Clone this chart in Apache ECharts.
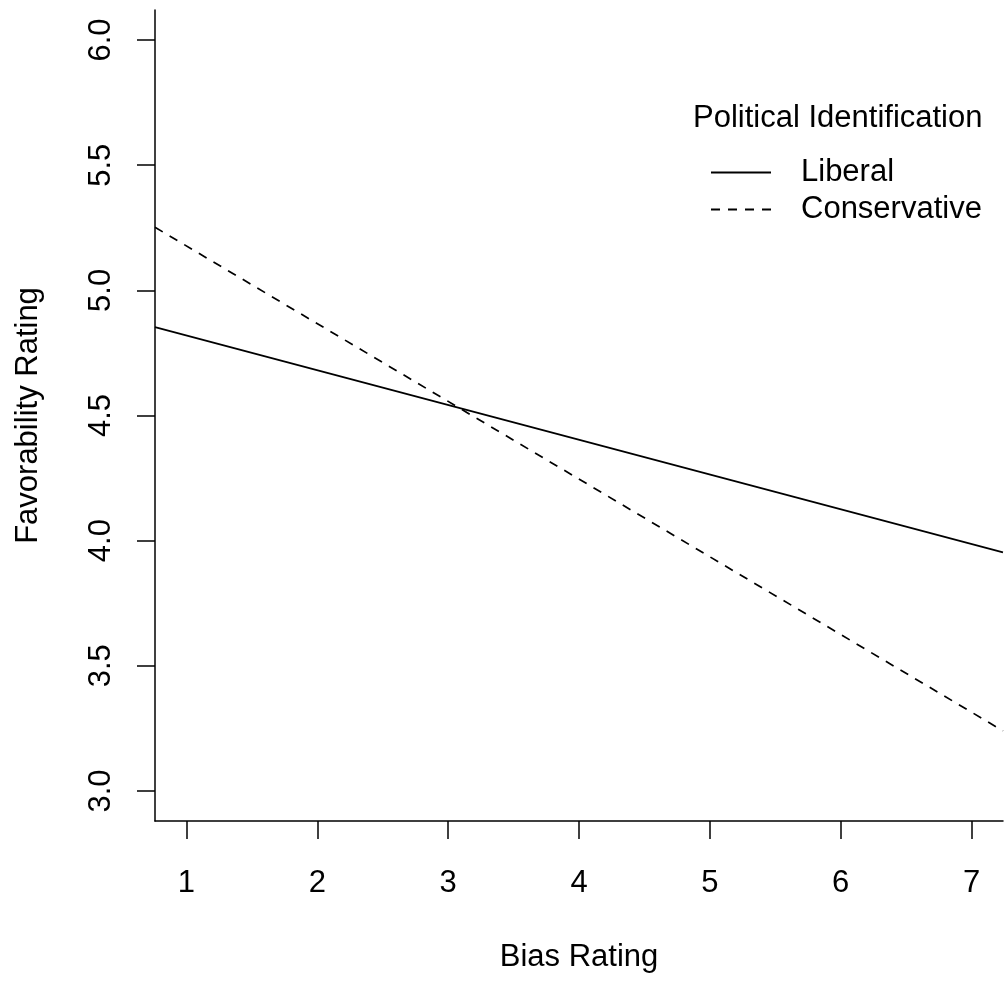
<!DOCTYPE html>
<html>
<head>
<meta charset="utf-8">
<script src="https://cdn.jsdelivr.net/npm/echarts@6/dist/echarts.min.js"></script>
<style>
html,body{margin:0;padding:0;background:#fff;}
#c{width:1005px;height:981px;}
</style>
</head>
<body>
<div id="c"></div>
<script>
// Data (lines drawn across the plot region)
const xEnds = [0.76, 7.24];
const liberal = [4.853, 3.953];
const conservative = [5.252, 3.24];
const xTicks = [1, 2, 3, 4, 5, 6, 7];
const yTicks = [3.0, 3.5, 4.0, 4.5, 5.0, 5.5, 6.0];
const seriesNames = ['Liberal', 'Conservative'];
const legendTitle = 'Political Identification';
const xTitle = 'Bias Rating';
const yTitle = 'Favorability Rating';

const FONT = 'Liberation Sans, Arial, sans-serif';
const chart = echarts.init(document.getElementById('c'), null, {renderer: 'canvas'});

const pairs = (xs, ys) => xs.map((x, i) => [x, ys[i]]);

chart.setOption({
  animation: false,
  backgroundColor: '#ffffff',
  textStyle: {fontFamily: FONT, color: '#000'},
  title: {
    text: legendTitle,
    left: 693,
    top: 103,
    padding: 0,
    textStyle: {fontFamily: FONT, fontSize: 31, fontWeight: 'normal', color: '#000'}
  },
  legend: {
    orient: 'vertical',
    left: 710,
    top: 154,
    padding: 0,
    itemGap: 0,
    itemWidth: 60,
    itemHeight: 37,
    itemStyle: {opacity: 0},
    data: seriesNames,
    textStyle: {fontFamily: FONT, fontSize: 31, color: '#000', padding: [0, 0, 0, 25], lineHeight: 37}
  },
  grid: {left: 155, right: 2, top: 10, bottom: 160, containLabel: false, outerBoundsMode: 'none'},
  xAxis: {
    type: 'value',
    min: xEnds[0],
    max: xEnds[1],
    name: xTitle,
    nameLocation: 'middle',
    nameGap: 121,
    nameTextStyle: {fontFamily: FONT, fontSize: 31, color: '#000'},
    splitLine: {show: false},
    axisLine: {show: true, onZero: false, lineStyle: {color: '#000', width: 1.5}},
    axisTick: {show: true, length: 18, lineStyle: {color: '#000', width: 1.5}, customValues: xTicks},
    axisLabel: {fontFamily: FONT, fontSize: 31, color: '#000', margin: 47, customValues: xTicks,
      formatter: v => String(v)}
  },
  yAxis: {
    type: 'value',
    min: 2.88,
    max: 6.12,
    name: yTitle,
    nameLocation: 'middle',
    nameRotate: 90,
    nameGap: 111,
    nameTextStyle: {fontFamily: FONT, fontSize: 31, color: '#000'},
    splitLine: {show: false},
    axisLine: {show: true, onZero: false, lineStyle: {color: '#000', width: 1.5}},
    axisTick: {show: true, length: 18, lineStyle: {color: '#000', width: 1.5}, customValues: yTicks},
    axisLabel: {fontFamily: FONT, fontSize: 31, color: '#000', margin: 38, rotate: 90, customValues: yTicks,
      formatter: v => Number(v).toFixed(1)}
  },
  series: [
    {
      name: seriesNames[0], type: 'line', symbol: 'none',
      data: pairs(xEnds, liberal),
      lineStyle: {color: '#000', width: 1.7, type: 'solid'},
      itemStyle: {color: '#000'}
    },
    {
      name: seriesNames[1], type: 'line', symbol: 'none',
      data: pairs(xEnds, conservative),
      lineStyle: {color: '#000', width: 1.7, type: [9, 8]},
      itemStyle: {color: '#000'}
    }
  ]
});
</script>
</body>
</html>
